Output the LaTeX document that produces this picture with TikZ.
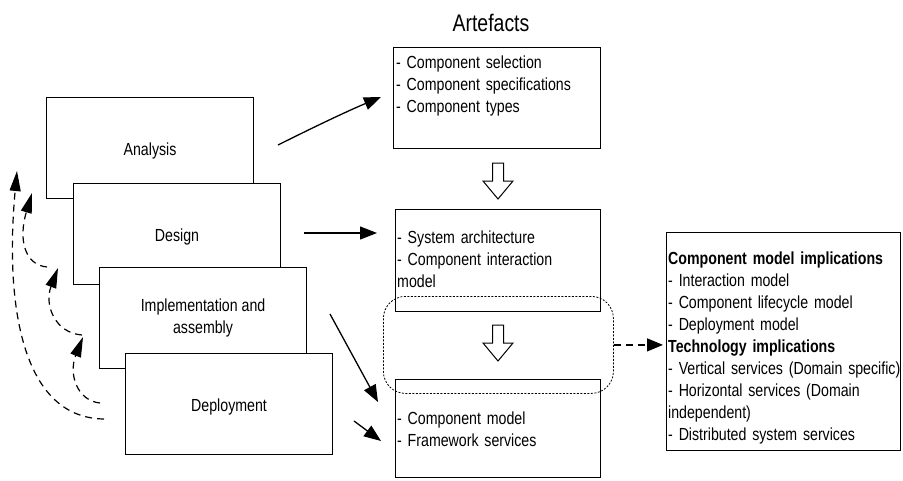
\documentclass[tikz,border=0pt]{standalone}
\usepackage{fontspec}
\setmainfont{Liberation Sans}[FakeStretch=0.81]
\usetikzlibrary{arrows.meta}

\begin{document}
\begin{tikzpicture}[x=1pt,y=-1pt,
  every node/.style={font=\fontsize{17.5}{22}\selectfont},
  stage/.style={draw, fill=white, line width=1.1pt, minimum width=207pt,
    minimum height=101pt, anchor=north west, inner sep=0pt, align=center},
  oneline/.style={text height=14pt, text depth=0pt},
  artbox/.style={draw, line width=1.1pt, anchor=north west, inner sep=0pt},
  listtext/.style={anchor=base west, inner sep=0pt, align=left, text width=#1},
  listtext/.default=200pt,
  flow/.style={line width=1.3pt, -{Triangle[length=17pt,width=13pt]}},
  backflow/.style={line width=1.2pt, dash pattern=on 7pt off 5pt,
    -{Triangle[length=20pt,width=11pt]}},
  group/.style={draw, line width=0.8pt, dash pattern=on 2pt off 1.5pt,
    rounded corners=22pt, anchor=north west, inner sep=0pt,
    minimum width=230pt, minimum height=97pt},
  downarrow/.pic={
    \draw[line width=1pt, fill=white] (-5.5,0) -- (5.5,0) -- (5.5,18)
      -- (15,18) -- (0,36) -- (-15,18) -- (-5.5,18) -- cycle;}
]
\useasboundingbox (0,0) rectangle (903,480);

% process stages, each one overlapping the previous
\node[stage, oneline] (an) at (46,97)  {Analysis};
\node[stage, oneline] (de) at (73,183) {Design};
\node[stage] (im) at (99,267) {Implementation and\\assembly};
\node[stage, oneline] (dp) at (125,353) {Deployment};

% artefacts column
\node[font=\fontsize{24}{28}\selectfont, anchor=base] (title) at (491,31) {Artefacts};

\node[artbox, minimum width=207pt, minimum height=101pt] (a1) at (393,47) {};
\node[listtext] (a1t) at (396,68)
  {- Component selection\\- Component specifications\\- Component types};

\node[artbox, minimum width=205pt, minimum height=102pt] (a2) at (395,209) {};
\node[listtext] (a2t) at (397,243)
  {- System architecture\\- Component interaction\\model};

\node[artbox, minimum width=205pt, minimum height=98pt] (a3) at (395,379) {};
\node[listtext] (a3t) at (397,424)
  {- Component model\\- Framework services};

\pic at (498,163) {downarrow};
\pic at (498,325) {downarrow};

% grouping of the architecture and the component model
\node[group] (grp) at (383,296) {};

% implications
\node[artbox, minimum width=234pt, minimum height=218pt] (rb) at (666,232) {};
\node[listtext=300pt] (rbt) at (668,264)
  {\textbf{Component model implications}\\
   - Interaction model\\
   - Component lifecycle model\\
   - Deployment model\\
   \textbf{Technology implications}\\
   - Vertical services (Domain specific)\\
   - Horizontal services (Domain\\
   independent)\\
   - Distributed system services};

\draw[line width=1.2pt, dash pattern=on 7pt off 5pt,
  -{Triangle[length=16pt,width=13pt]}, shorten >=3pt]
  (grp.east) -- (grp.east -| rb.west);

% stage to artefact arrows
\coordinate (f1s) at (278,145);
\coordinate (f1e) at (381,97);
\coordinate (f2s) at (304,233);
\coordinate (f2e) at (377,233);
\coordinate (f3s) at (330,314);
\coordinate (f3e) at (378,402);
\coordinate (f4s) at (354,421);
\coordinate (f4e) at (381,441);
\draw[flow] (f1s) .. controls (320,124) and (350,110) .. (f1e);
\draw[flow] (f2s) -- (f2e);
\draw[flow] (f3s) -- (f3e);
\draw[flow] (f4s) -- (f4e);

% feedback to earlier stages
\coordinate (b1s) at (104,419);
\coordinate (b1e) at (17,171);
\coordinate (b2s) at (47,267);
\coordinate (b2e) at (32,193);
\coordinate (b3s) at (82,335);
\coordinate (b3e) at (58,268);
\coordinate (b4s) at (100,403);
\coordinate (b4e) at (83,337);
\draw[backflow] (b1s) .. controls (20,418) and (5,300) .. (b1e);
\draw[backflow] (b2s) .. controls (25,265) and (18,240) .. (b2e);
\draw[backflow] (b3s) .. controls (55,333) and (44,305) .. (b3e);
\draw[backflow] (b4s) .. controls (78,401) and (68,375) .. (b4e);
\end{tikzpicture}
\end{document}
